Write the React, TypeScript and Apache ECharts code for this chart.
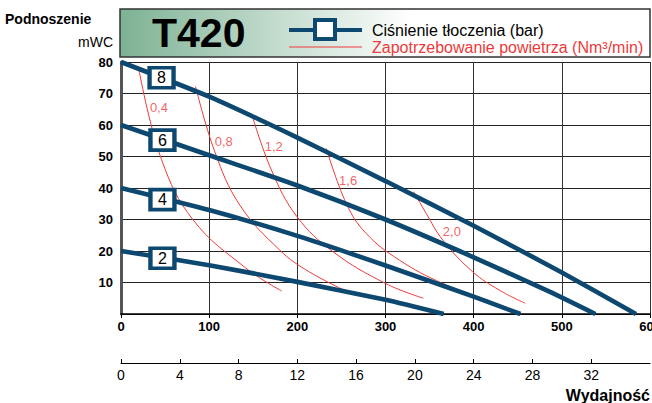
import React, { useEffect, useRef } from 'react';
import * as echarts from 'echarts';

// ---- data ----
const pressureLabels = ['8', '6', '4', '2'];
const line8 = [[0, 80], [100, 69], [200, 56], [300, 42.2], [400, 28], [500, 13.2], [584, 0]];
const line6 = [[0, 60], [100, 50.4], [200, 40.8], [300, 30], [400, 18], [486, 7.1], [538, 0]];
const line4 = [[0, 40], [100, 33], [200, 24.8], [300, 15.4], [400, 5.5], [453, 0]];
const line2 = [[0, 20], [100, 15.5], [200, 10.2], [300, 4.5], [366, 0]];
const pressureLines = [line8, line6, line4, line2];
const markerX = [46, 47, 47, 47];
const markerY = [75, 55.2, 36.3, 17.7];

const airLabels = ['0,4', '0,8', '1,2', '1,6', '2,0'];
const air04 = [[20.4, 77.5], [46, 49], [82, 29.8], [141.5, 14.6], [182.3, 7.3]];
const air08 = [[84.6, 72.2], [106.4, 51.5], [134.7, 34.6], [180, 20.3], [214, 13.3], [265, 6]];
const air12 = [[148, 63.7], [170.6, 45.7], [199.6, 30.9], [240.4, 19.8], [300, 9.7], [343, 5]];
const air16 = [[232.9, 52.6], [255.5, 35.1], [278, 25.6], [315.8, 17.1], [364.9, 9.7], [418.5, 4.2]];
const air20 = [[332, 38.8], [346, 32], [364.9, 23.5], [398.9, 13.4], [429, 7.6], [458.5, 3.4]];
const airCurves = [air04, air08, air12, air16, air20];
const airLabelX = [43, 116.6, 173.2, 257.6, 375.3];
const airLabelY = [65.4, 54.9, 53.1, 42.5, 26.1];

const flowTicksLmin = { min: 0, max: 600, interval: 100 };
const flowTicksM3h = { min: 0, max: 36, interval: 4 };
const headTicks = { min: 0, max: 80, interval: 10 };

// ---- styles ----
const NAVY = '#0c4870';
const RED = '#ee3a3a';
const FONT = '"Liberation Sans", Arial, sans-serif';

export default function App() {
  const ref = useRef<HTMLDivElement>(null);
  useEffect(() => {
    document.body.style.margin = '0';
    const chart = echarts.init(ref.current!, null, { renderer: 'svg' });
    const series: any[] = [];
    airCurves.forEach((c, i) => {
      series.push({
        type: 'line', name: 'air' + airLabels[i], data: c, xAxisIndex: 0, yAxisIndex: 0,
        symbol: 'none', smooth: 0.4,
        lineStyle: { color: RED, width: 1 }, z: 2, silent: true,
      });
    });
    pressureLines.forEach((l, i) => {
      series.push({
        type: 'line', name: 'p' + pressureLabels[i], data: l, xAxisIndex: 0, yAxisIndex: 0,
        symbol: 'none', smooth: 0.2,
        lineStyle: { color: NAVY, width: 4.6 }, z: 3, silent: true,
      });
    });
    series.push({
      type: 'scatter', xAxisIndex: 0, yAxisIndex: 0, z: 5, silent: true,
      symbol: 'rect', symbolSize: [24, 20],
      itemStyle: { color: '#fff', borderColor: NAVY, borderWidth: 4, opacity: 1 },
      label: { show: true, position: 'inside', formatter: (p: any) => p.name, color: '#000', fontSize: 16, fontFamily: FONT },
      data: pressureLabels.map((n, i) => ({ name: n, value: [markerX[i], markerY[i]] })),
    });
    series.push({
      type: 'scatter', xAxisIndex: 0, yAxisIndex: 0, z: 4, silent: true,
      symbolSize: 0,
      label: { show: true, position: 'inside', formatter: (p: any) => p.name, color: RED, fontSize: 13, fontFamily: FONT },
      data: airLabels.map((n, i) => ({ name: n, value: [airLabelX[i], airLabelY[i]] })),
    });

    const option: any = {
      animation: false,
      textStyle: { fontFamily: FONT },
      grid: { left: 121, right: 2, top: 62, bottom: 89, containLabel: false, outerBoundsMode: 'none' },
      xAxis: [
        {
          type: 'value', ...flowTicksLmin, position: 'bottom',
          axisLine: { show: true, lineStyle: { color: '#000', width: 1.5 } },
          axisTick: { show: true, length: 4, lineStyle: { color: '#000' } },
          axisLabel: { color: '#000', fontWeight: 'bold', fontSize: 13, margin: 6, fontFamily: FONT },
          splitLine: { show: true, lineStyle: { color: '#333', width: 1 } },
        },
        {
          type: 'value', ...flowTicksM3h, position: 'bottom', offset: 49,
          axisLine: { show: true, onZero: false, lineStyle: { color: '#000', width: 1 } },
          axisTick: { show: true, inside: true, length: 4, lineStyle: { color: '#000' } },
          axisLabel: { color: '#000', fontSize: 14, margin: 5, showMaxLabel: false, fontFamily: FONT },
          splitLine: { show: false },
        },
      ],
      yAxis: [
        {
          type: 'value', ...headTicks,
          axisLine: { show: true, lineStyle: { color: '#000', width: 1.5 } },
          axisTick: { show: false },
          axisLabel: { color: '#000', fontWeight: 'bold', fontSize: 13, margin: 8, fontFamily: FONT,
            formatter: (v: number) => (v === 0 ? '' : String(v)) },
          splitLine: { show: true, lineStyle: { color: '#222', width: 1 } },
        },
        {
          type: 'value', ...headTicks, position: 'right',
          axisLine: { show: true, lineStyle: { color: '#555', width: 3 } },
          axisTick: { show: false }, axisLabel: { show: false }, splitLine: { show: false },
        },
      ],
      graphic: [
        {
          type: 'rect', shape: { x: 120, y: 9, width: 530, height: 48 }, z: 10,
          style: {
            fill: new echarts.graphic.LinearGradient(0, 0, 1, 0, [
              { offset: 0, color: '#7db294' },
              { offset: 0.55, color: '#ffffff' },
              { offset: 1, color: '#ffffff' },
            ]),
            stroke: '#333', lineWidth: 1.5,
          },
        },
        { type: 'text', x: 152, y: 33, z: 11, style: { text: 'T420', fill: '#000', font: `bold 41px ${FONT}`, textVerticalAlign: 'middle' } },
        { type: 'line', z: 11, shape: { x1: 289, y1: 30, x2: 362, y2: 30 }, style: { stroke: NAVY, lineWidth: 4 } },
        { type: 'rect', z: 12, shape: { x: 315, y: 20, width: 20, height: 19 }, style: { fill: '#fff', stroke: NAVY, lineWidth: 4 } },
        { type: 'text', x: 372, y: 30, z: 11, style: { text: 'Ciśnienie tłoczenia (bar)', fill: '#000', font: `16px ${FONT}`, textVerticalAlign: 'middle' } },
        { type: 'line', z: 11, shape: { x1: 289, y1: 47, x2: 362, y2: 47 }, style: { stroke: RED, lineWidth: 1 } },
        { type: 'text', x: 372, y: 47, z: 11, style: { text: 'Zapotrzebowanie powietrza (Nm³/min)', fill: RED, font: `16px ${FONT}`, textVerticalAlign: 'middle' } },
        { type: 'text', x: 5, y: 19, z: 11, style: { text: 'Podnoszenie', fill: '#000', font: `bold 14px ${FONT}`, textVerticalAlign: 'middle' } },
        { type: 'text', x: 113, y: 42, z: 11, style: { text: 'mWC', fill: '#000', font: `14px ${FONT}`, textAlign: 'right', textVerticalAlign: 'middle' } },
        { type: 'text', x: 650, y: 395, z: 11, style: { text: 'Wydajność', fill: '#000', font: `bold 16px ${FONT}`, textAlign: 'right', textVerticalAlign: 'middle' } },
      ],
      series,
    };
    chart.setOption(option);
    return () => chart.dispose();
  }, []);
  return <div ref={ref} style={{ width: 652, height: 403 }} />;
}
